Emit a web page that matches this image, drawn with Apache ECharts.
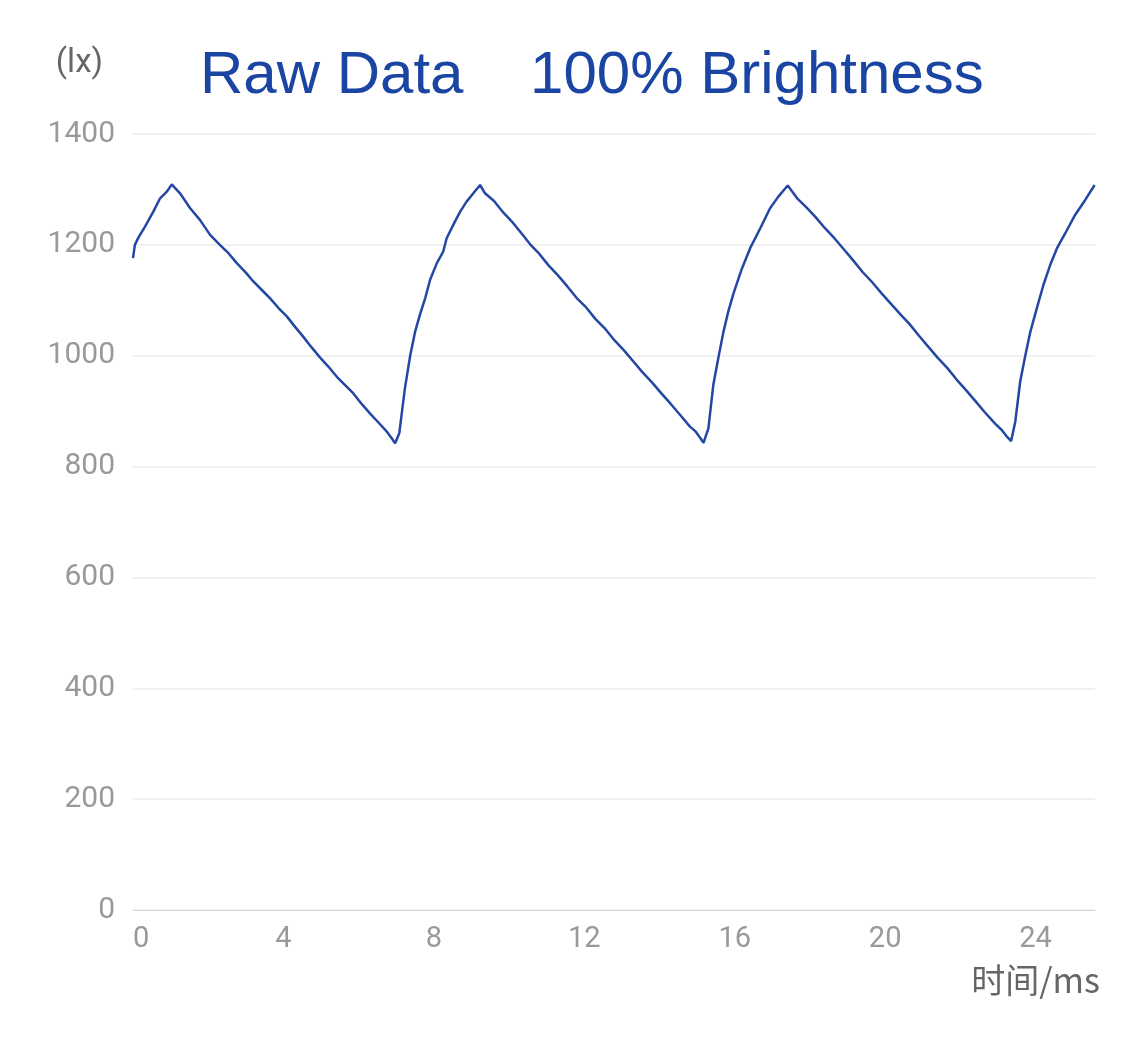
<!DOCTYPE html>
<html>
<head>
<meta charset="utf-8">
<script src="https://cdn.jsdelivr.net/npm/echarts@6/dist/echarts.min.js"></script>
<style>
html,body{margin:0;padding:0;background:#fff;}
#chart{width:1125px;height:1040px;}
</style>
</head>
<body>
<div id="chart"></div>
<script>
var titleText = 'Raw Data    100% Brightness';
var xName = '时间/ms';
var yName = '(lx)';
var yTicks = [0, 200, 400, 600, 800, 1000, 1200, 1400];
var xTicks = [0, 4, 8, 12, 16, 20, 24];

var timeMs = [
  0, 0.05, 0.15, 0.32, 0.54, 0.72, 0.90, 1.03,
  1.25, 1.52, 1.78, 2.05, 2.31, 2.55, 2.76, 3.00, 3.20, 3.42, 3.64, 3.87, 4.09, 4.31, 4.53, 4.75, 4.97, 5.20, 5.42, 5.64, 5.86, 6.08, 6.30, 6.52, 6.75, 6.88, 6.97,
  7.08, 7.23, 7.37, 7.50, 7.63, 7.77, 7.90, 8.08, 8.25, 8.34, 8.56, 8.70, 8.87, 9.05, 9.23,
  9.36, 9.60, 9.85, 10.10, 10.35, 10.56, 10.80, 11.05, 11.30, 11.55, 11.80, 12.05, 12.30, 12.55, 12.80, 13.05, 13.30, 13.55, 13.80, 14.05, 14.30, 14.55, 14.81, 14.95, 15.08, 15.17,
  15.30, 15.43, 15.57, 15.70, 15.83, 15.97, 16.19, 16.41, 16.68, 16.94, 17.16, 17.41,
  17.66, 17.90, 18.15, 18.40, 18.65, 18.90, 19.15, 19.40, 19.65, 19.90, 20.15, 20.40, 20.65, 20.90, 21.15, 21.40, 21.65, 21.90, 22.15, 22.40, 22.65, 22.93, 23.10, 23.25, 23.35,
  23.46, 23.59, 23.72, 23.86, 24.03, 24.21, 24.39, 24.57, 24.79, 25.05, 25.32, 25.57
];
var luxValues = [
  1176, 1200, 1214, 1233, 1260, 1284, 1296, 1309,
  1293, 1266, 1245, 1218, 1200, 1184, 1167, 1150, 1134, 1119, 1104, 1086, 1071, 1052, 1034, 1015, 997, 980, 962, 947, 932, 913, 896, 880, 863, 851, 842,
  860, 941, 1000, 1043, 1074, 1104, 1137, 1167, 1188, 1212, 1242, 1260, 1278, 1293, 1308,
  1293, 1279, 1258, 1240, 1219, 1201, 1184, 1163, 1145, 1125, 1104, 1087, 1066, 1049, 1028, 1010, 990, 970, 952, 932, 913, 893, 872, 864, 852, 843,
  869, 947, 998, 1043, 1080, 1113, 1157, 1194, 1230, 1266, 1287, 1307,
  1284, 1268, 1250, 1230, 1212, 1192, 1172, 1151, 1133, 1113, 1094, 1075, 1057, 1036, 1016, 996, 978, 957, 938, 918, 898, 877, 866, 853, 846,
  881, 953, 998, 1043, 1085, 1128, 1164, 1194, 1221, 1254, 1281, 1308
];

var seriesData = timeMs.map(function (t, i) { return [t, luxValues[i]]; });

var chart = echarts.init(document.getElementById('chart'), null, {renderer: 'canvas'});
chart.setOption({
  backgroundColor: '#ffffff',
  animation: false,
  title: {
    text: titleText,
    left: 200,
    top: 46,
    padding: 0,
    textStyle: {
      fontFamily: 'Liberation Sans, Arial, sans-serif',
      fontSize: 60,
      fontWeight: 'normal',
      color: '#1b45a3'
    }
  },
  grid: {left: 133, right: 30, top: 134, bottom: 130},
  xAxis: {
    type: 'value',
    min: xTicks[0],
    max: 25.58,
    interval: xTicks[1] - xTicks[0],
    name: xName,
    nameLocation: 'end',
    nameGap: 5,
    nameTextStyle: {
      fontFamily: 'Noto Sans CJK SC, sans-serif',
      fontSize: 34,
      color: '#666666',
      align: 'right',
      verticalAlign: 'top',
      padding: [53, 0, 0, 0]
    },
    axisLine: {show: true, lineStyle: {color: '#d9d9d9', width: 1}},
    axisTick: {show: false},
    splitLine: {show: false},
    axisLabel: {
      color: '#999999',
      fontSize: 29,
      fontFamily: 'Roboto, sans-serif',
      margin: 15,
      alignMinLabel: 'left',
      showMaxLabel: false,
      formatter: function (v) { return String(v); }
    }
  },
  yAxis: {
    type: 'value',
    min: yTicks[0],
    max: yTicks[yTicks.length - 1],
    interval: yTicks[1] - yTicks[0],
    name: yName,
    nameLocation: 'end',
    nameGap: 70,
    nameTextStyle: {
      fontFamily: 'Roboto, sans-serif',
      fontSize: 33,
      color: '#666666',
      align: 'right',
      verticalAlign: 'middle',
      padding: [0, 30, 0, 0]
    },
    axisLine: {show: false},
    axisTick: {show: false},
    splitLine: {show: true, lineStyle: {color: '#f0f0f0', width: 2}},
    axisLabel: {
      color: '#999999',
      fontSize: 30,
      fontFamily: 'Roboto, sans-serif',
      margin: 18,
      formatter: function (v) { return String(v); }
    }
  },
  series: [{
    type: 'line',
    data: seriesData,
    showSymbol: false,
    symbol: 'none',
    lineStyle: {color: '#2347a3', width: 2.5},
    itemStyle: {color: '#2347a3'}
  }]
});
</script>
</body>
</html>
